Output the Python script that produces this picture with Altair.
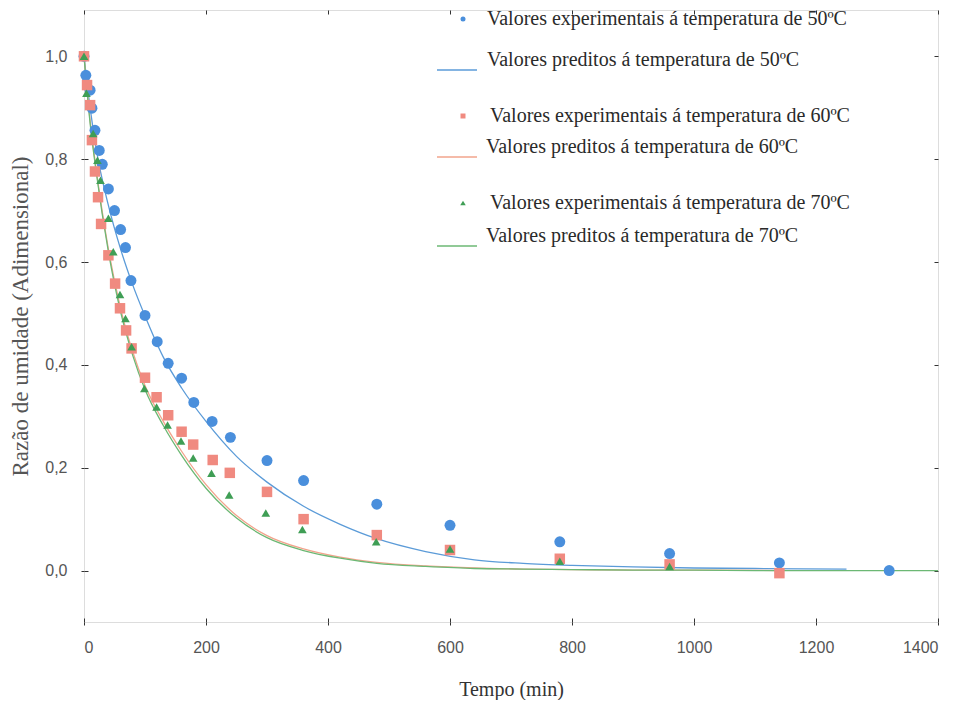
import altair as alt
import pandas as pd

# ---------------- data ----------------
t50 = [0, 3, 10, 13, 18, 25, 30, 40, 50, 60, 68, 77, 100, 120, 138, 160, 180, 210, 240, 300, 360, 480, 600, 780, 960, 1140, 1320]
mr50 = [1.0, 0.963, 0.934, 0.899, 0.856, 0.817, 0.790, 0.742, 0.700, 0.663, 0.628, 0.564, 0.496, 0.445, 0.403, 0.374, 0.327, 0.290, 0.259, 0.214, 0.175, 0.129, 0.088, 0.056, 0.033, 0.015, 0.0]

t60 = [0, 5, 10, 13, 18, 23, 28, 40, 51, 59, 69, 78, 100, 119, 138, 160, 179, 211, 239, 300, 360, 480, 600, 780, 960, 1140]
mr60 = [1.0, 0.944, 0.905, 0.837, 0.776, 0.726, 0.674, 0.613, 0.558, 0.510, 0.467, 0.432, 0.375, 0.337, 0.302, 0.270, 0.245, 0.215, 0.190, 0.153, 0.100, 0.069, 0.040, 0.023, 0.012, -0.005]

t70 = [0, 4, 15, 22, 27, 40, 48, 59, 68, 78, 99, 119, 137, 159, 179, 209, 238, 298, 358, 479, 600, 780, 960]
mr70 = [1.0, 0.928, 0.850, 0.798, 0.759, 0.685, 0.620, 0.537, 0.490, 0.435, 0.354, 0.318, 0.283, 0.252, 0.219, 0.189, 0.147, 0.112, 0.080, 0.056, 0.042, 0.018, 0.008]

# predicted curves
tc50 = [0, 10, 20, 40, 60, 80, 100, 130, 160, 200, 250, 300, 360, 420, 480, 560, 640, 720, 800, 900, 1000, 1100, 1250]
pc50 = [1.0, 0.90, 0.82, 0.71, 0.625, 0.555, 0.495, 0.415, 0.355, 0.29, 0.222, 0.172, 0.125, 0.09, 0.062, 0.037, 0.021, 0.014, 0.010, 0.007, 0.005, 0.004, 0.003]

tc60 = [0, 10, 20, 40, 60, 80, 100, 130, 160, 200, 250, 300, 360, 420, 480, 560, 640, 720, 800, 900, 1000, 1140]
pc60 = [1.0, 0.875, 0.78, 0.625, 0.51, 0.425, 0.36, 0.29, 0.232, 0.167, 0.107, 0.068, 0.042, 0.026, 0.016, 0.009, 0.005, 0.003, 0.002, 0.001, 0.001, 0.0]

tc70 = [0, 10, 20, 40, 60, 80, 100, 130, 160, 200, 250, 300, 360, 420, 480, 560, 640, 720, 800, 900, 1000, 1100, 1250, 1400]
pc70 = [1.0, 0.87, 0.775, 0.62, 0.503, 0.418, 0.352, 0.282, 0.224, 0.16, 0.102, 0.064, 0.039, 0.024, 0.014, 0.008, 0.004, 0.003, 0.002, 0.001, 0.001, 0.0, 0.0, 0.0]

lab_exp = ["Valores experimentais á temperatura de 50ºC",
           "Valores experimentais á temperatura de 60ºC",
           "Valores experimentais á temperatura de 70ºC"]
lab_pred = ["Valores preditos á temperatura de 50ºC",
            "Valores preditos á temperatura de 60ºC",
            "Valores preditos á temperatura de 70ºC"]

x_ticks = [0, 200, 400, 600, 800, 1000, 1200, 1400]
y_ticks = [0.0, 0.2, 0.4, 0.6, 0.8, 1.0]

# ---------------- styling ----------------
W, H = 854, 612
PT_COL = ["#4a8fdc", "#f08a80", "#3f9e55"]
LN_COL = ["#5b9bd8", "#f2a48c", "#6cb874"]
SERIF = "Liberation Serif"
SANS = "Liberation Sans"
LEG_FS = 20
TICK_FS = 16

xscale = alt.Scale(domain=[0, 1400], nice=False, zero=False)
yscale = alt.Scale(domain=[-0.1, 1.09], nice=False, zero=False)
ylabel = "replace(format(datum.value, '.1f'), '.', ',')"
xlabel = "format(datum.value, 'd')"

ax_x_main = alt.Axis(values=x_ticks, labelExpr=xlabel, labelFont=SANS, labelFontSize=TICK_FS,
                     labelColor="#555", title="Tempo (min)", titleFont=SERIF, titleFontSize=20,
                     titleFontWeight="normal", titleColor="#333", titlePadding=24,
                     labelPadding=14, tickSize=3, tickColor="#333", domain=False, grid=False)
ax_y_main = alt.Axis(values=y_ticks, labelExpr=ylabel, labelFont=SANS, labelFontSize=TICK_FS,
                     labelColor="#555", title="Razão de umidade (Adimensional)",
                     titleFont=SERIF, titleFontSize=23, titleFontWeight="normal", titleColor="#555",
                     titlePadding=12, labelPadding=14, tickSize=3, tickColor="#333", domain=False,
                     grid=False)
# inward ticks on every edge
ax_x_in_bottom = alt.Axis(orient="top", offset=-H, values=x_ticks, labels=False, title=None,
                          tickSize=4, tickColor="#333", domain=False, grid=False)
ax_x_in_top = alt.Axis(orient="bottom", offset=-H, values=x_ticks, labels=False, title=None,
                       tickSize=4, tickColor="#333", domain=False, grid=False)
ax_y_in_left = alt.Axis(orient="right", offset=-W, values=y_ticks, labels=False, title=None,
                        tickSize=4, tickColor="#333", domain=False, grid=False)
ax_y_in_right = alt.Axis(orient="left", offset=-W, values=y_ticks, labels=False, title=None,
                         tickSize=4, tickColor="#333", domain=False, grid=False)


def legend(lx, ly, stype, ssize, loff, baseline="middle", sw=None):
    kw = dict(orient="none", legendX=lx, legendY=ly, title=None, symbolType=stype,
              symbolSize=ssize, labelFont=SERIF, labelFontSize=LEG_FS, labelColor="#2a2a2a",
              labelLimit=700, labelOffset=loff, padding=0, symbolOffset=0, labelBaseline=baseline)
    if sw is not None:
        kw["symbolStrokeWidth"] = sw
    return alt.Legend(**kw)


def points(t, mr, label, color, shape, size, leg, xax=None, yax=None):
    df = pd.DataFrame({"t": t, "mr": mr, "serie": label})
    return alt.Chart(df).mark_point(filled=True, shape=shape, size=size, opacity=1).encode(
        x=alt.X("t:Q", scale=xscale, axis=xax),
        y=alt.Y("mr:Q", scale=yscale, axis=yax),
        color=alt.Color("serie:N", scale=alt.Scale(domain=[label], range=[color]), legend=leg),
    )


def curve(t, p, label, color, leg, xax=None, yax=None):
    df = pd.DataFrame({"t": t, "mr": p, "serie": label})
    return alt.Chart(df).mark_line(strokeWidth=1.3, interpolate="monotone").encode(
        x=alt.X("t:Q", scale=xscale, axis=xax),
        y=alt.Y("mr:Q", scale=yscale, axis=yax),
        color=alt.Color("serie:N", scale=alt.Scale(domain=[label], range=[color]), legend=leg),
    )


layers = [
    curve(tc50, pc50, lab_pred[0], LN_COL[0], legend(352, 39, "stroke", 1600, 9, "bottom", 1.3),
          ax_x_in_bottom, ax_y_in_left),
    curve(tc60, pc60, lab_pred[1], LN_COL[1], legend(352, 126, "stroke", 1600, 8, "bottom", 1.3),
          ax_x_in_top, ax_y_in_right),
    curve(tc70, pc70, lab_pred[2], LN_COL[2], legend(352, 215, "stroke", 1600, 8, "bottom", 1.3)),
    points(t50, mr50, lab_exp[0], PT_COL[0], "circle", 120, legend(369, -1, "circle", 25, 14),
           ax_x_main, ax_y_main),
    points(t60, mr60, lab_exp[1], PT_COL[1], "square", 110, legend(369, 96, "square", 25, 17)),
    points(t70, mr70, lab_exp[2], PT_COL[2], "triangle-up", 75, legend(369, 183, "triangle-up", 30, 17)),
]

chart = alt.layer(*layers).resolve_scale(color="independent").resolve_axis(
    x="independent", y="independent"
).properties(
    width=W, height=H,
    autosize=alt.AutoSizeParams(type="none"),
    padding={"left": 76, "top": 2, "right": 16, "bottom": 78},
).configure_view(stroke="#222", strokeWidth=1.3).configure(background="white")

chart.save("out.html", embed_options={"renderer": "svg", "actions": False})
